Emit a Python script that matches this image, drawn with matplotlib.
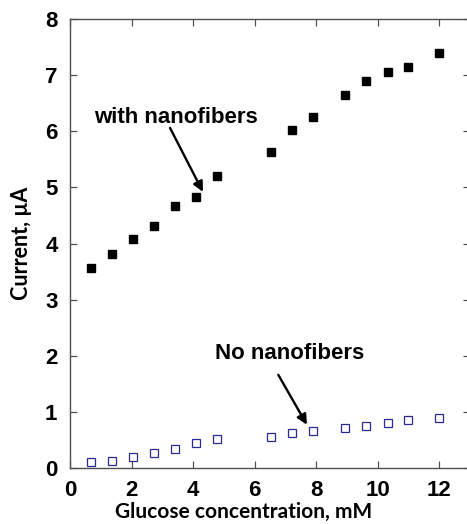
import matplotlib
matplotlib.use("Agg")
import matplotlib.pyplot as plt

# glucose concentration (mM)
glucose = [0.67, 1.35, 2.05, 2.74, 3.41, 4.10, 4.79, 6.52, 7.22, 7.90,
           8.94, 9.63, 10.32, 11.0, 12.0]

# current (uA)
with_fibers = [3.56, 3.81, 4.08, 4.31, 4.67, 4.83, 5.21, 5.63, 6.02, 6.26,
               6.64, 6.89, 7.06, 7.14, 7.39]
no_fibers = [0.10, 0.13, 0.19, 0.27, 0.33, 0.45, 0.51, 0.55, 0.63, 0.66,
             0.71, 0.75, 0.81, 0.85, 0.89]

x_ticks = [0, 2, 4, 6, 8, 10, 12]
y_ticks = [0, 1, 2, 3, 4, 5, 6, 7, 8]

# annotation text, text centre, arrow tail, arrow head (data units)
notes = [
    ("with nanofibers", (3.45, 6.25), (3.25, 6.06), (4.32, 4.92)),
    ("No nanofibers", (7.15, 2.04), (6.77, 1.66), (7.70, 0.77)),
]

W, H = 467, 524
fig = plt.figure(figsize=(W / 100, H / 100), dpi=100)
ax = fig.add_axes([70 / W, 1 - 468 / H, 400 / W, 449 / H])

ax.plot(glucose, with_fibers, linestyle="none", marker="s", markersize=5.2,
        color="black")
ax.plot(glucose, no_fibers, linestyle="none", marker="s", markersize=5.2,
        markerfacecolor="white", markeredgecolor="#2a2a96", markeredgewidth=0.9)

ax.set_xlim(0, 13)
ax.set_ylim(0, 8)
ax.set_xticks(x_ticks)
ax.set_yticks(y_ticks)

for s in ax.spines.values():
    s.set_color("#505050")
    s.set_linewidth(1.0)

ax.tick_params(direction="in", length=5, width=0.9, color="#505050",
               top=True, right=True, pad=9, labelsize=16)
for lab in ax.get_xticklabels() + ax.get_yticklabels():
    lab.set_fontfamily("Liberation Sans")
    lab.set_fontweight("bold")

ax.set_ylabel("Current, µA", fontsize=15.5, fontweight="bold",
              family="Lato", labelpad=9)
ax.set_xlabel("Glucose concentration, mM", fontsize=15, fontweight="bold",
              family="Lato")
# baseline a few px above the bottom edge so the comma is not cut
ax.xaxis.set_label_coords(0.435, -0.1114)
ax.xaxis.label.set_va("baseline")

for text, pos, tail, head in notes:
    ax.text(pos[0], pos[1], text, ha="center", va="center", fontsize=16,
            fontweight="bold", family="Liberation Sans")
    ax.annotate("", xy=head, xytext=tail,
                arrowprops=dict(arrowstyle="-|>", color="black", lw=1.7,
                                mutation_scale=15, shrinkA=0, shrinkB=0))

fig.savefig("out.png", dpi=100)
